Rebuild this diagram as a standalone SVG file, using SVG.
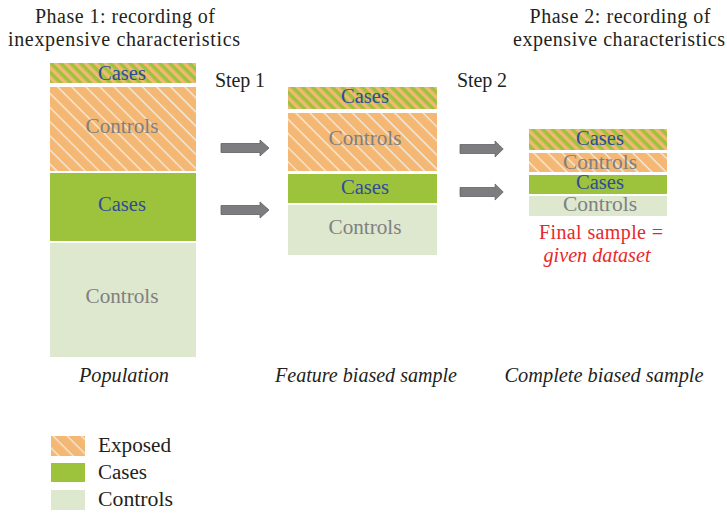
<svg xmlns="http://www.w3.org/2000/svg" width="727" height="513" viewBox="0 0 727 513" font-family="'Liberation Serif', 'Times New Roman', serif">
  <style>
    text { font-family: "Liberation Serif", "Times New Roman", serif; }
    .title { font-size: 20px; fill: #231f20; }
    .cap { font-size: 20px; font-style: italic; fill: #231f20; text-anchor: middle; }
    .lbl { font-size: 20px; text-anchor: middle; }
    .case { fill: #2f4b9b; }
    .ctrl { fill: #808080; }
    .legend { font-size: 20px; fill: #231f20; }
    .red { font-size: 20px; fill: #e8282b; text-anchor: middle; }
    .arrow { fill: #7d7d80; stroke: #5f5f63; stroke-width: 0.8; }
  </style>
  <defs>
    <!-- exposed cases: green/orange diagonal stripes -->
    <pattern id="hatchCases" patternUnits="userSpaceOnUse" width="7" height="7" patternTransform="rotate(45)">
      <rect width="7" height="7" fill="#f4b874"/>
      <rect width="7" height="3.5" fill="#9dc23b"/>
    </pattern>
    <!-- exposed controls: orange with thin white diagonals -->
    <pattern id="hatchCtrl" patternUnits="userSpaceOnUse" width="10" height="10" patternTransform="rotate(45)">
      <rect width="10" height="10" fill="#f4b874"/>
      <rect width="10" height="1.3" fill="#f3ede3"/>
    </pattern>
    <path id="arr" d="M0,-4.5 H39 V-8 L48,0 L39,8 V4.5 H0 Z"/>
  </defs>

  <!-- headings -->
  <g id="headings">
    <text class="title" x="125" y="23" text-anchor="middle" textLength="180">Phase 1: recording of</text>
    <text class="title" x="124" y="46" text-anchor="middle" textLength="232">inexpensive characteristics</text>
    <text class="title" x="620" y="23" text-anchor="middle" textLength="181">Phase 2: recording of</text>
    <text class="title" x="619" y="46" text-anchor="middle" textLength="212">expensive characteristics</text>
    <text class="title" x="215" y="87" textLength="50">Step 1</text>
    <text class="title" x="457" y="87" textLength="50">Step 2</text>
  </g>

  <!-- population -->
  <g id="population">
    <rect x="50" y="63" width="146" height="20" fill="url(#hatchCases)"/>
    <rect x="50" y="87" width="146" height="84" fill="url(#hatchCtrl)"/>
    <rect x="50" y="173" width="146" height="68" fill="#9dc23b"/>
    <rect x="50" y="243" width="146" height="114" fill="#dde8cf"/>
    <text class="lbl case" x="122" y="80" textLength="48" lengthAdjust="spacingAndGlyphs">Cases</text>
    <text class="lbl ctrl" x="122" y="133" textLength="73" lengthAdjust="spacingAndGlyphs">Controls</text>
    <text class="lbl case" x="122" y="211" textLength="48" lengthAdjust="spacingAndGlyphs">Cases</text>
    <text class="lbl ctrl" x="122" y="303" textLength="73" lengthAdjust="spacingAndGlyphs">Controls</text>
    <text class="cap" x="124" y="382" textLength="90" lengthAdjust="spacingAndGlyphs">Population</text>
  </g>

  <!-- feature biased sample -->
  <g id="feature-sample">
    <rect x="288" y="87" width="149" height="22" fill="url(#hatchCases)"/>
    <rect x="288" y="113" width="149" height="58" fill="url(#hatchCtrl)"/>
    <rect x="288" y="174" width="149" height="29" fill="#9dc23b"/>
    <rect x="288" y="205" width="149" height="50" fill="#dde8cf"/>
    <text class="lbl case" x="365" y="103" textLength="48" lengthAdjust="spacingAndGlyphs">Cases</text>
    <text class="lbl ctrl" x="365" y="145" textLength="73" lengthAdjust="spacingAndGlyphs">Controls</text>
    <text class="lbl case" x="365" y="194" textLength="48" lengthAdjust="spacingAndGlyphs">Cases</text>
    <text class="lbl ctrl" x="365" y="234" textLength="73" lengthAdjust="spacingAndGlyphs">Controls</text>
    <text class="cap" x="366" y="382" textLength="182" lengthAdjust="spacingAndGlyphs">Feature biased sample</text>
  </g>

  <!-- complete biased sample -->
  <g id="complete-sample">
    <rect x="529" y="129" width="138" height="21" fill="url(#hatchCases)"/>
    <rect x="529" y="153" width="138" height="19" fill="url(#hatchCtrl)"/>
    <rect x="529" y="175" width="138" height="19" fill="#9dc23b"/>
    <rect x="529" y="196" width="138" height="20" fill="#dde8cf"/>
    <text class="lbl case" x="600" y="145" textLength="48" lengthAdjust="spacingAndGlyphs">Cases</text>
    <text class="lbl ctrl" x="600" y="169" textLength="74" lengthAdjust="spacingAndGlyphs">Controls</text>
    <text class="lbl case" x="600" y="189" textLength="48" lengthAdjust="spacingAndGlyphs">Cases</text>
    <text class="lbl ctrl" x="600" y="211" textLength="74" lengthAdjust="spacingAndGlyphs">Controls</text>
    <text class="red" x="601" y="239" textLength="124">Final sample =</text>
    <text class="red" x="597" y="262" font-style="italic" textLength="107" lengthAdjust="spacingAndGlyphs">given dataset</text>
    <text class="cap" x="604" y="382" textLength="199" lengthAdjust="spacingAndGlyphs">Complete biased sample</text>
  </g>

  <!-- connectors -->
  <g id="connectors">
    <use href="#arr" class="arrow" transform="translate(221,148)"/>
    <use href="#arr" class="arrow" transform="translate(221,210)"/>
    <use href="#arr" class="arrow" transform="translate(460,149) scale(0.9,1)"/>
    <use href="#arr" class="arrow" transform="translate(460,192) scale(0.9,1)"/>
  </g>

  <!-- legend -->
  <g id="legend">
    <rect x="51" y="436" width="34" height="20" fill="url(#hatchCtrl)"/>
    <rect x="51" y="463" width="34" height="19" fill="#9dc23b"/>
    <rect x="51" y="490" width="34" height="20" fill="#dde8cf"/>
    <text class="legend" x="98" y="452" textLength="73" lengthAdjust="spacingAndGlyphs">Exposed</text>
    <text class="legend" x="98" y="479" textLength="49" lengthAdjust="spacingAndGlyphs">Cases</text>
    <text class="legend" x="98" y="506" textLength="75" lengthAdjust="spacingAndGlyphs">Controls</text>
  </g>
</svg>
